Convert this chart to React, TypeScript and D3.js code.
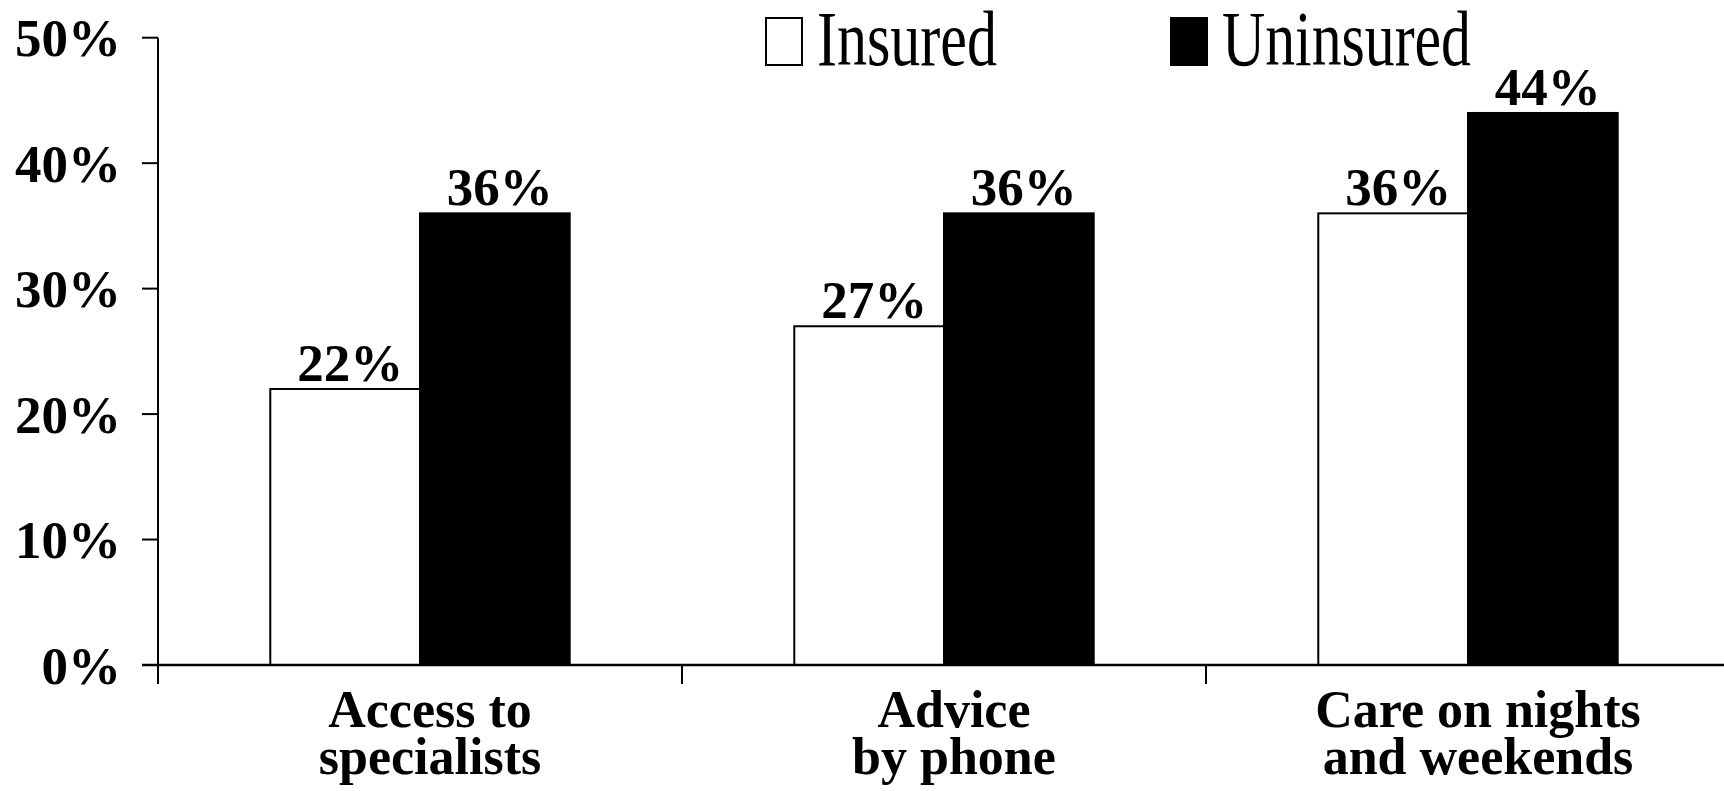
import React from "react";
import * as d3 from "d3";

const categories: string[][] = [
  ["Access to", "specialists"],
  ["Advice", "by phone"],
  ["Care on nights", "and weekends"],
];
const seriesNames = ["Insured", "Uninsured"];
const insured = [22, 27, 36];
const uninsured = [36, 36, 44];
const yTicks = [0, 10, 20, 30, 40, 50];

const W = 1724;
const H = 791;
const FONT = "'Liberation Serif', 'Times New Roman', serif";

export default function App() {
  const catKeys = categories.map((c) => c.join(" "));
  const x0 = d3.scaleBand<string>().domain(catKeys).range([158, 158 + 3 * 524]).padding(0);
  const x1 = d3
    .scaleBand<string>()
    .domain(seriesNames)
    .range([0, x0.bandwidth()])
    .paddingInner(0)
    .paddingOuter(0.75);
  const y = d3.scaleLinear().domain([0, 50]).range([665, 37.7]);
  const values = [insured, uninsured];
  const fills = ["#ffffff", "#000000"];
  const legendX = [765, 1170];
  const legendTextLen = [180, 249];

  return (
    <svg
      width={W}
      height={H}
      style={{ position: "absolute", left: 0, top: 0, background: "#fff" }}
    >
      {/* bars */}
      {catKeys.map((k, ci) =>
        seriesNames.map((s, si) => {
          const v = values[si][ci];
          const bx = (x0(k) as number) + (x1(s) as number);
          const bw = x1.bandwidth();
          return (
            <g key={k + s}>
              <rect
                x={bx}
                y={y(v)}
                width={bw}
                height={y(0) - y(v)}
                fill={fills[si]}
                stroke="#000"
                strokeWidth={2}
              />
              <text
                x={bx + bw / 2 + 5}
                y={y(v) - 8}
                textAnchor="middle"
                fontFamily={FONT}
                fontWeight="bold"
                fontSize={53}
                fill="#000"
              >
                {v}%
              </text>
            </g>
          );
        })
      )}

      {/* y axis */}
      <line x1={158} x2={158} y1={y(50)} y2={684} stroke="#000" strokeWidth={2} />
      {yTicks.map((t) => (
        <g key={t}>
          <line x1={142} x2={158} y1={y(t)} y2={y(t)} stroke="#000" strokeWidth={2} />
          <text
            x={121}
            y={y(t)}
            dy="0.35em"
            textAnchor="end"
            fontFamily={FONT}
            fontWeight="bold"
            fontSize={53}
            fill="#000"
          >
            {t}%
          </text>
        </g>
      ))}

      {/* x axis */}
      <line x1={142} x2={W} y1={y(0)} y2={y(0)} stroke="#000" strokeWidth={2.5} />
      {catKeys.map((k) => (
        <line
          key={"t" + k}
          x1={x0(k) as number}
          x2={x0(k) as number}
          y1={y(0)}
          y2={684}
          stroke="#000"
          strokeWidth={2}
        />
      ))}
      {categories.map((lines, ci) => {
        const cx = (x0(catKeys[ci]) as number) + x0.bandwidth() / 2 + 10;
        return (
          <text
            key={"c" + ci}
            textAnchor="middle"
            fontFamily={FONT}
            fontWeight="bold"
            fontSize={52}
            fill="#000"
          >
            {lines.map((ln, li) => (
              <tspan key={li} x={cx} y={727 + li * 46.5}>
                {ln}
              </tspan>
            ))}
          </text>
        );
      })}

      {/* legend */}
      {seriesNames.map((s, si) => {
        const lx = legendX[si];
        return (
          <g key={"l" + s}>
            <rect
              x={lx + 1}
              y={18}
              width={36}
              height={47}
              fill={fills[si]}
              stroke="#000"
              strokeWidth={2}
            />
            <text
              x={lx + 52}
              y={65}
              fontFamily={FONT}
              fontSize={79}
              textLength={legendTextLen[si]}
              lengthAdjust="spacingAndGlyphs"
              fill="#000"
            >
              {s}
            </text>
          </g>
        );
      })}
    </svg>
  );
}
